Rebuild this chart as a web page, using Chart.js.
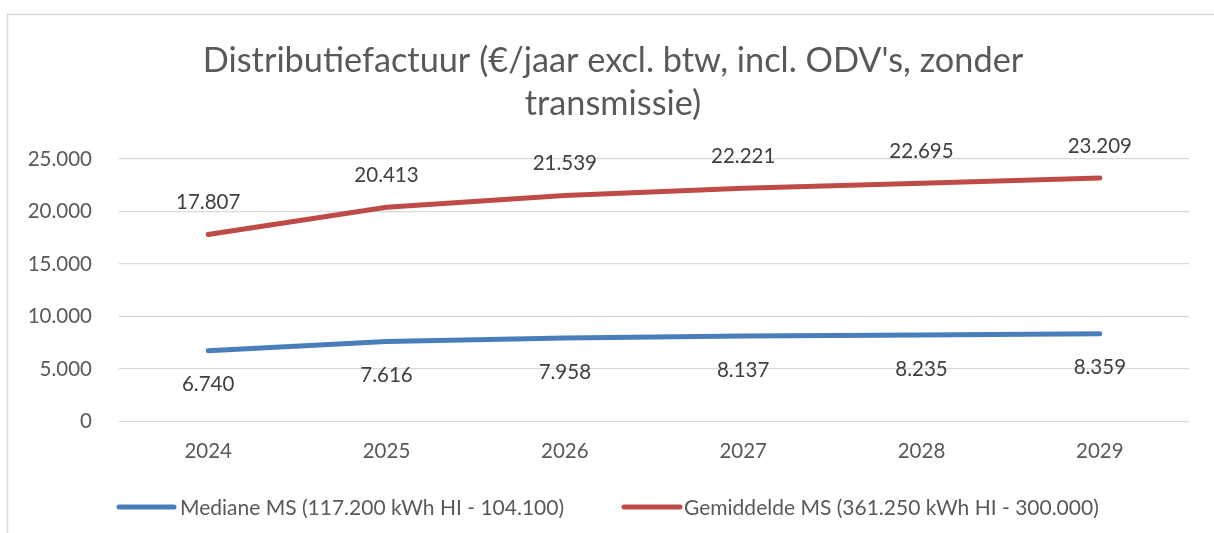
<!DOCTYPE html>
<html>
<head>
<meta charset="utf-8">
<script src="https://cdn.jsdelivr.net/npm/chart.js@4/dist/chart.umd.min.js"></script>
<style>
  html, body { margin: 0; padding: 0; background: #ffffff; }
  #wrap { position: relative; width: 1214px; height: 533px; }
  canvas { display: block; }
</style>
</head>
<body>
<div id="wrap"><canvas id="c" width="1214" height="533"></canvas></div>
<script>
const categories = ['2024', '2025', '2026', '2027', '2028', '2029'];
const medianeValues = [6740, 7616, 7958, 8137, 8235, 8359];
const gemiddeldeValues = [17807, 20413, 21539, 22221, 22695, 23209];
const seriesNames = ['Mediane MS (117.200 kWh HI - 104.100)', 'Gemiddelde MS (361.250 kWh HI - 300.000)'];
const titleLines = ["Distributiefactuur (€/jaar excl. btw, incl. ODV's, zonder", 'transmissie)'];
const yTicks = [0, 5000, 10000, 15000, 20000, 25000];

const FONT = 'Lato';
const AXIS_TEXT = '#595959';
const LABEL_TEXT = '#404040';
const BLUE = '#4A7EBB';
const RED = '#BE4B48';

function fmt(v) {
  return String(v).replace(/\B(?=(\d{3})+(?!\d))/g, '.');
}

const frame = {
  id: 'frame',
  beforeDraw(chart) {
    const ctx = chart.ctx;
    ctx.save();
    ctx.fillStyle = '#ffffff';
    ctx.fillRect(0, 0, chart.width, chart.height);
    ctx.strokeStyle = '#d9d9d9';
    ctx.lineWidth = 1.5;
    ctx.beginPath();
    ctx.moveTo(7.5, chart.height + 2);
    ctx.lineTo(7.5, 14.5);
    ctx.lineTo(chart.width + 2, 14.5);
    ctx.stroke();
    ctx.restore();
  }
};

const dataLabels = {
  id: 'dataLabels',
  afterDatasetsDraw(chart) {
    const ctx = chart.ctx;
    ctx.save();
    ctx.font = '20.5px ' + FONT;
    ctx.fillStyle = LABEL_TEXT;
    ctx.textAlign = 'center';
    ctx.textBaseline = 'middle';
    chart.data.datasets.forEach((ds, i) => {
      const meta = chart.getDatasetMeta(i);
      const off = ds.labelPos === 'above' ? -32 : 34;
      meta.data.forEach((pt, j) => {
        ctx.fillText(fmt(ds.data[j]), pt.x, pt.y + off);
      });
    });
    ctx.restore();
  }
};

const customLegend = {
  id: 'customLegend',
  afterDraw(chart) {
    const ctx = chart.ctx;
    const items = [
      { ds: chart.data.datasets[0], x0: 119, x1: 174, tx: 180 },
      { ds: chart.data.datasets[1], x0: 624, x1: 680, tx: 684 }
    ];
    const y = 507;
    ctx.save();
    ctx.font = '21px ' + FONT;
    ctx.textAlign = 'left';
    ctx.textBaseline = 'middle';
    items.forEach(it => {
      ctx.strokeStyle = it.ds.borderColor;
      ctx.lineWidth = 5;
      ctx.lineCap = 'round';
      ctx.beginPath();
      ctx.moveTo(it.x0, y);
      ctx.lineTo(it.x1, y);
      ctx.stroke();
      ctx.fillStyle = AXIS_TEXT;
      ctx.fillText(it.ds.label, it.tx, y + 1);
    });
    ctx.restore();
  }
};

new Chart(document.getElementById('c'), {
  type: 'line',
  data: {
    labels: categories,
    datasets: [
      {
        label: seriesNames[0],
        data: medianeValues,
        borderColor: BLUE,
        backgroundColor: BLUE,
        borderWidth: 5,
        pointRadius: 0,
        borderCapStyle: 'round',
        tension: 0,
        labelPos: 'below'
      },
      {
        label: seriesNames[1],
        data: gemiddeldeValues,
        borderColor: RED,
        backgroundColor: RED,
        borderWidth: 5,
        pointRadius: 0,
        borderCapStyle: 'round',
        tension: 0,
        labelPos: 'above'
      }
    ]
  },
  options: {
    responsive: false,
    animation: false,
    devicePixelRatio: 1,
    layout: { padding: { left: 12, right: 0, top: 0, bottom: 52 } },
    plugins: {
      title: {
        display: true,
        text: titleLines,
        color: AXIS_TEXT,
        font: { family: FONT, size: 34.3, weight: 'normal', lineHeight: 1.27 },
        padding: { top: 39, bottom: 33 }
      },
      legend: { display: false },
      tooltip: { enabled: false }
    },
    scales: {
      x: {
        offset: true,
        grid: { display: false, drawTicks: false },
        border: { display: false },
        ticks: { color: AXIS_TEXT, font: { family: FONT, size: 20.5 }, padding: 17.5, maxRotation: 0 }
      },
      y: {
        min: 0,
        max: 25000,
        afterBuildTicks(scale) { scale.ticks = yTicks.map(v => ({ value: v })); },
        afterFit(scale) { scale.width = 107; },
        grid: { color: '#d9d9d9', lineWidth: 1.3, drawTicks: false },
        border: { display: false },
        ticks: { color: AXIS_TEXT, font: { family: FONT, size: 20.5 }, padding: 27, callback: v => fmt(v) }
      },
      yRightSpacer: {
        position: 'right',
        display: true,
        grid: { display: false, drawTicks: false },
        border: { display: false },
        ticks: { display: false },
        afterFit(scale) { scale.width = 25; }
      }
    }
  },
  plugins: [frame, dataLabels, customLegend]
});
</script>
</body>
</html>
